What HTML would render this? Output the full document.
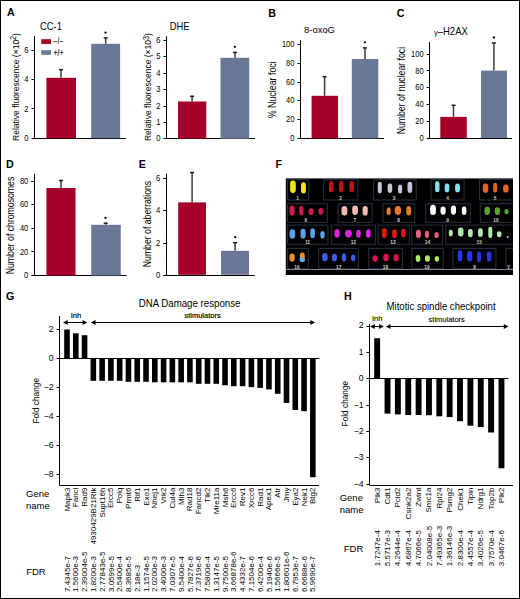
<!DOCTYPE html>
<html><head><meta charset="utf-8"><style>
html,body{margin:0;padding:0;background:#fff;}
body{width:520px;height:599px;overflow:hidden;}
svg{display:block;font-family:"Liberation Sans", sans-serif;}
</style></head><body>
<svg width="520" height="599" viewBox="0 0 520 599">
<defs><filter id="soft" x="-30%" y="-30%" width="160%" height="160%"><feGaussianBlur stdDeviation="0.35"/></filter><clipPath id="fclip"><rect x="285.8" y="178.4" width="227.2" height="96.6"/></clipPath></defs>
<rect x="0" y="0" width="520" height="599" fill="#fff"/>
<text x="0" y="0" font-size="11.5" text-anchor="start" fill="#000" font-weight="bold" transform="translate(6.9 15.9) scale(0.93 1)">A</text>
<text x="0" y="0" font-size="11.5" text-anchor="start" fill="#000" font-weight="bold" transform="translate(268.3 16.6) scale(0.93 1)">B</text>
<text x="0" y="0" font-size="11.5" text-anchor="start" fill="#000" font-weight="bold" transform="translate(396.8 16.6) scale(0.93 1)">C</text>
<text x="0" y="0" font-size="11.5" text-anchor="start" fill="#000" font-weight="bold" transform="translate(5.9 167.9) scale(0.93 1)">D</text>
<text x="0" y="0" font-size="11.5" text-anchor="start" fill="#000" font-weight="bold" transform="translate(138.8 167.8) scale(0.93 1)">E</text>
<text x="0" y="0" font-size="11.5" text-anchor="start" fill="#000" font-weight="bold" transform="translate(275.6 168) scale(0.93 1)">F</text>
<text x="0" y="0" font-size="11.5" text-anchor="start" fill="#000" font-weight="bold" transform="translate(6.0 300.4) scale(0.93 1)">G</text>
<text x="0" y="0" font-size="11.5" text-anchor="start" fill="#000" font-weight="bold" transform="translate(343.9 300.1) scale(0.93 1)">H</text>
<line x1="34.5" y1="36" x2="34.5" y2="138.5" stroke="#000" stroke-width="1.0"/>
<line x1="31.5" y1="50.5" x2="34.5" y2="50.5" stroke="#000" stroke-width="1.0"/>
<text x="0" y="0" font-size="8.7" text-anchor="end" fill="#000" transform="translate(28.5 52.8) scale(0.87 1)">6</text>
<line x1="31.5" y1="79.5" x2="34.5" y2="79.5" stroke="#000" stroke-width="1.0"/>
<text x="0" y="0" font-size="8.7" text-anchor="end" fill="#000" transform="translate(28.5 82.0) scale(0.87 1)">4</text>
<line x1="31.5" y1="108.5" x2="34.5" y2="108.5" stroke="#000" stroke-width="1.0"/>
<text x="0" y="0" font-size="8.7" text-anchor="end" fill="#000" transform="translate(28.5 111.5) scale(0.87 1)">2</text>
<line x1="31.5" y1="138.5" x2="34.5" y2="138.5" stroke="#000" stroke-width="1.0"/>
<text x="0" y="0" font-size="8.7" text-anchor="end" fill="#000" transform="translate(28.5 140.8) scale(0.87 1)">0</text>
<line x1="34.5" y1="138.5" x2="126" y2="138.5" stroke="#000" stroke-width="1.0"/>
<rect x="46.40" y="77.80" width="29.60" height="60.40" fill="#a6002a"/>
<line x1="61" y1="69.6" x2="61" y2="77.8" stroke="#3a3a3a" stroke-width="1.5"/>
<line x1="59.0" y1="69.69999999999999" x2="63.0" y2="69.69999999999999" stroke="#1a1a1a" stroke-width="1.5"/>
<rect x="91.20" y="43.80" width="28.90" height="94.40" fill="#6a7898"/>
<line x1="105.7" y1="37.8" x2="105.7" y2="43.8" stroke="#3a3a3a" stroke-width="1.5"/>
<line x1="103.7" y1="37.9" x2="107.7" y2="37.9" stroke="#1a1a1a" stroke-width="1.5"/>
<circle cx="105.5" cy="32.6" r="1.15" fill="#000"/>
<rect x="41.20" y="39.20" width="9.80" height="4.70" fill="#a6002a"/>
<rect x="41.20" y="50.20" width="9.80" height="4.60" fill="#6a7898"/>
<text x="0" y="0" font-size="8.2" text-anchor="start" fill="#4a4a4a" font-weight="bold" transform="translate(53.4 44.0) scale(0.85 1)">−/−</text>
<text x="0" y="0" font-size="8.2" text-anchor="start" fill="#333" font-weight="bold" transform="translate(53.4 55.8) scale(0.85 1)">+/+</text>
<text x="0" y="0" font-size="10.5" text-anchor="start" fill="#000" transform="translate(39.9 30.3) scale(0.9 1)">CC-1</text>
<text x="0" y="0" font-size="9.8" text-anchor="middle" fill="#000" transform="translate(18.5 87.0) rotate(-90) scale(0.87 1)">Relative fluorescence (×10<tspan dy="-2.4" font-size="8.2">2</tspan><tspan dy="2.4">)</tspan></text>
<line x1="166.5" y1="36.3" x2="166.5" y2="138.9" stroke="#000" stroke-width="1.0"/>
<line x1="163.5" y1="138.5" x2="166.5" y2="138.5" stroke="#000" stroke-width="1.0"/>
<text x="0" y="0" font-size="8.7" text-anchor="end" fill="#000" transform="translate(160.5 141.35) scale(0.87 1)">0</text>
<line x1="163.5" y1="122.5" x2="166.5" y2="122.5" stroke="#000" stroke-width="1.0"/>
<text x="0" y="0" font-size="8.7" text-anchor="end" fill="#000" transform="translate(160.5 124.97) scale(0.87 1)">1</text>
<line x1="163.5" y1="106.5" x2="166.5" y2="106.5" stroke="#000" stroke-width="1.0"/>
<text x="0" y="0" font-size="8.7" text-anchor="end" fill="#000" transform="translate(160.5 108.6) scale(0.87 1)">2</text>
<line x1="163.5" y1="89.5" x2="166.5" y2="89.5" stroke="#000" stroke-width="1.0"/>
<text x="0" y="0" font-size="8.7" text-anchor="end" fill="#000" transform="translate(160.5 92.22) scale(0.87 1)">3</text>
<line x1="163.5" y1="73.5" x2="166.5" y2="73.5" stroke="#000" stroke-width="1.0"/>
<text x="0" y="0" font-size="8.7" text-anchor="end" fill="#000" transform="translate(160.5 75.85) scale(0.87 1)">4</text>
<line x1="163.5" y1="56.5" x2="166.5" y2="56.5" stroke="#000" stroke-width="1.0"/>
<text x="0" y="0" font-size="8.7" text-anchor="end" fill="#000" transform="translate(160.5 59.48) scale(0.87 1)">5</text>
<line x1="163.5" y1="40.5" x2="166.5" y2="40.5" stroke="#000" stroke-width="1.0"/>
<text x="0" y="0" font-size="8.7" text-anchor="end" fill="#000" transform="translate(160.5 43.1) scale(0.87 1)">6</text>
<line x1="166.5" y1="138.5" x2="255" y2="138.5" stroke="#000" stroke-width="1.0"/>
<rect x="178.00" y="101.50" width="28.25" height="37.25" fill="#a6002a"/>
<line x1="192.1" y1="96.2" x2="192.1" y2="101.5" stroke="#3a3a3a" stroke-width="1.5"/>
<line x1="190.1" y1="96.3" x2="194.1" y2="96.3" stroke="#1a1a1a" stroke-width="1.5"/>
<rect x="220.50" y="57.80" width="28.75" height="80.95" fill="#6a7898"/>
<line x1="235" y1="52.3" x2="235" y2="57.8" stroke="#3a3a3a" stroke-width="1.5"/>
<line x1="233.0" y1="52.4" x2="237.0" y2="52.4" stroke="#1a1a1a" stroke-width="1.5"/>
<circle cx="234.8" cy="46.8" r="1.15" fill="#000"/>
<text x="0" y="0" font-size="10.4" text-anchor="start" fill="#000" transform="translate(169.8 30.0) scale(0.9 1)">DHE</text>
<text x="0" y="0" font-size="9.8" text-anchor="middle" fill="#000" transform="translate(151.0 87.1) rotate(-90) scale(0.87 1)">Relative fluorescence (×10<tspan dy="-2.4" font-size="8.2">3</tspan><tspan dy="2.4">)</tspan></text>
<line x1="300.5" y1="40.2" x2="300.5" y2="138.6" stroke="#000" stroke-width="1.0"/>
<line x1="297.5" y1="138.5" x2="300.5" y2="138.5" stroke="#000" stroke-width="1.0"/>
<text x="0" y="0" font-size="8.7" text-anchor="end" fill="#000" transform="translate(294.5 141.0) scale(0.87 1)">0</text>
<line x1="297.5" y1="119.5" x2="300.5" y2="119.5" stroke="#000" stroke-width="1.0"/>
<text x="0" y="0" font-size="8.7" text-anchor="end" fill="#000" transform="translate(294.5 122.24) scale(0.87 1)">20</text>
<line x1="297.5" y1="100.5" x2="300.5" y2="100.5" stroke="#000" stroke-width="1.0"/>
<text x="0" y="0" font-size="8.7" text-anchor="end" fill="#000" transform="translate(294.5 103.48) scale(0.87 1)">40</text>
<line x1="297.5" y1="82.5" x2="300.5" y2="82.5" stroke="#000" stroke-width="1.0"/>
<text x="0" y="0" font-size="8.7" text-anchor="end" fill="#000" transform="translate(294.5 84.72) scale(0.87 1)">60</text>
<line x1="297.5" y1="63.5" x2="300.5" y2="63.5" stroke="#000" stroke-width="1.0"/>
<text x="0" y="0" font-size="8.7" text-anchor="end" fill="#000" transform="translate(294.5 65.96) scale(0.87 1)">80</text>
<line x1="297.5" y1="44.5" x2="300.5" y2="44.5" stroke="#000" stroke-width="1.0"/>
<text x="0" y="0" font-size="8.7" text-anchor="end" fill="#000" transform="translate(294.5 47.2) scale(0.87 1)">100</text>
<line x1="300.5" y1="138.5" x2="384" y2="138.5" stroke="#000" stroke-width="1.0"/>
<rect x="311.60" y="95.80" width="26.40" height="42.60" fill="#a6002a"/>
<line x1="324.6" y1="76.6" x2="324.6" y2="95.8" stroke="#3a3a3a" stroke-width="1.5"/>
<line x1="322.6" y1="76.69999999999999" x2="326.6" y2="76.69999999999999" stroke="#1a1a1a" stroke-width="1.5"/>
<rect x="351.80" y="59.00" width="26.50" height="79.40" fill="#6a7898"/>
<line x1="365" y1="47.8" x2="365" y2="59" stroke="#3a3a3a" stroke-width="1.5"/>
<line x1="363.0" y1="47.9" x2="367.0" y2="47.9" stroke="#1a1a1a" stroke-width="1.5"/>
<circle cx="364.9" cy="42.3" r="1.15" fill="#000"/>
<text x="0" y="0" font-size="9.6" text-anchor="start" fill="#000" transform="translate(304.1 33.0) scale(0.98 1)">8-oxoG</text>
<text x="0" y="0" font-size="10.2" text-anchor="middle" fill="#000" transform="translate(276.0 89.8) rotate(-90) scale(0.87 1)">% Nuclear foci</text>
<line x1="429.5" y1="42" x2="429.5" y2="138.2" stroke="#000" stroke-width="1.0"/>
<line x1="426.7" y1="138.5" x2="429.7" y2="138.5" stroke="#000" stroke-width="1.0"/>
<text x="0" y="0" font-size="8.7" text-anchor="end" fill="#000" transform="translate(423.7 140.6) scale(0.87 1)">0</text>
<line x1="426.7" y1="121.5" x2="429.7" y2="121.5" stroke="#000" stroke-width="1.0"/>
<text x="0" y="0" font-size="8.7" text-anchor="end" fill="#000" transform="translate(423.7 123.84) scale(0.87 1)">20</text>
<line x1="426.7" y1="104.5" x2="429.7" y2="104.5" stroke="#000" stroke-width="1.0"/>
<text x="0" y="0" font-size="8.7" text-anchor="end" fill="#000" transform="translate(423.7 107.08) scale(0.87 1)">40</text>
<line x1="426.7" y1="87.5" x2="429.7" y2="87.5" stroke="#000" stroke-width="1.0"/>
<text x="0" y="0" font-size="8.7" text-anchor="end" fill="#000" transform="translate(423.7 90.32) scale(0.87 1)">60</text>
<line x1="426.7" y1="70.5" x2="429.7" y2="70.5" stroke="#000" stroke-width="1.0"/>
<text x="0" y="0" font-size="8.7" text-anchor="end" fill="#000" transform="translate(423.7 73.56) scale(0.87 1)">80</text>
<line x1="426.7" y1="54.5" x2="429.7" y2="54.5" stroke="#000" stroke-width="1.0"/>
<text x="0" y="0" font-size="8.7" text-anchor="end" fill="#000" transform="translate(423.7 56.8) scale(0.87 1)">100</text>
<line x1="429.7" y1="138.5" x2="512" y2="138.5" stroke="#000" stroke-width="1.0"/>
<rect x="440.30" y="116.90" width="26.50" height="21.10" fill="#a6002a"/>
<line x1="453.5" y1="105.2" x2="453.5" y2="116.9" stroke="#3a3a3a" stroke-width="1.5"/>
<line x1="451.5" y1="105.3" x2="455.5" y2="105.3" stroke="#1a1a1a" stroke-width="1.5"/>
<rect x="481.00" y="70.60" width="26.00" height="67.40" fill="#6a7898"/>
<line x1="493.9" y1="42.9" x2="493.9" y2="70.6" stroke="#3a3a3a" stroke-width="1.5"/>
<line x1="491.9" y1="43.0" x2="495.9" y2="43.0" stroke="#1a1a1a" stroke-width="1.5"/>
<circle cx="493.9" cy="37.5" r="1.15" fill="#000"/>
<text x="0" y="0" font-size="10" text-anchor="start" fill="#000" transform="translate(433.9 34.5) scale(0.95 1)"><tspan font-size="8">γ</tspan>–H2AX</text>
<text x="0" y="0" font-size="10" text-anchor="middle" fill="#000" transform="translate(404.9 90.6) rotate(-90) scale(0.87 1)">Number of nuclear foci</text>
<line x1="34.5" y1="173.7" x2="34.5" y2="275.7" stroke="#000" stroke-width="1.0"/>
<line x1="31.299999999999997" y1="275.5" x2="34.3" y2="275.5" stroke="#000" stroke-width="1.0"/>
<text x="0" y="0" font-size="8.7" text-anchor="end" fill="#000" transform="translate(28.3 278.2) scale(0.87 1)">0</text>
<line x1="31.299999999999997" y1="251.5" x2="34.3" y2="251.5" stroke="#000" stroke-width="1.0"/>
<text x="0" y="0" font-size="8.7" text-anchor="end" fill="#000" transform="translate(28.3 254.55) scale(0.87 1)">20</text>
<line x1="31.299999999999997" y1="228.5" x2="34.3" y2="228.5" stroke="#000" stroke-width="1.0"/>
<text x="0" y="0" font-size="8.7" text-anchor="end" fill="#000" transform="translate(28.3 230.9) scale(0.87 1)">40</text>
<line x1="31.299999999999997" y1="204.5" x2="34.3" y2="204.5" stroke="#000" stroke-width="1.0"/>
<text x="0" y="0" font-size="8.7" text-anchor="end" fill="#000" transform="translate(28.3 207.25) scale(0.87 1)">60</text>
<line x1="31.299999999999997" y1="181.5" x2="34.3" y2="181.5" stroke="#000" stroke-width="1.0"/>
<text x="0" y="0" font-size="8.7" text-anchor="end" fill="#000" transform="translate(28.3 183.6) scale(0.87 1)">80</text>
<line x1="34.3" y1="275.5" x2="126.5" y2="275.5" stroke="#000" stroke-width="1.0"/>
<rect x="46.40" y="188.00" width="29.10" height="87.50" fill="#a6002a"/>
<line x1="61" y1="180.4" x2="61" y2="188" stroke="#3a3a3a" stroke-width="1.5"/>
<line x1="59.0" y1="180.5" x2="63.0" y2="180.5" stroke="#1a1a1a" stroke-width="1.5"/>
<rect x="91.25" y="224.80" width="29.50" height="50.70" fill="#6a7898"/>
<line x1="105.7" y1="223.1" x2="105.7" y2="224.8" stroke="#3a3a3a" stroke-width="1.5"/>
<line x1="103.7" y1="223.2" x2="107.7" y2="223.2" stroke="#1a1a1a" stroke-width="1.5"/>
<circle cx="105.5" cy="217.9" r="1.15" fill="#000"/>
<text x="0" y="0" font-size="10" text-anchor="middle" fill="#000" transform="translate(13.9 225.5) rotate(-90) scale(0.87 1)">Number of chromosomes</text>
<line x1="166.5" y1="173.6" x2="166.5" y2="275" stroke="#000" stroke-width="1.0"/>
<line x1="163.2" y1="275.5" x2="166.2" y2="275.5" stroke="#000" stroke-width="1.0"/>
<text x="0" y="0" font-size="8.7" text-anchor="end" fill="#000" transform="translate(160.2 277.8) scale(0.87 1)">0</text>
<line x1="163.2" y1="243.5" x2="166.2" y2="243.5" stroke="#000" stroke-width="1.0"/>
<text x="0" y="0" font-size="8.7" text-anchor="end" fill="#000" transform="translate(160.2 245.6) scale(0.87 1)">2</text>
<line x1="163.2" y1="210.5" x2="166.2" y2="210.5" stroke="#000" stroke-width="1.0"/>
<text x="0" y="0" font-size="8.7" text-anchor="end" fill="#000" transform="translate(160.2 213.4) scale(0.87 1)">4</text>
<line x1="163.2" y1="178.5" x2="166.2" y2="178.5" stroke="#000" stroke-width="1.0"/>
<text x="0" y="0" font-size="8.7" text-anchor="end" fill="#000" transform="translate(160.2 181.2) scale(0.87 1)">6</text>
<line x1="166.2" y1="275.5" x2="254.8" y2="275.5" stroke="#000" stroke-width="1.0"/>
<rect x="178.20" y="202.40" width="27.80" height="72.40" fill="#a6002a"/>
<line x1="192.1" y1="172.5" x2="192.1" y2="202.4" stroke="#3a3a3a" stroke-width="1.5"/>
<line x1="190.1" y1="172.6" x2="194.1" y2="172.6" stroke="#1a1a1a" stroke-width="1.5"/>
<rect x="221.00" y="250.80" width="28.00" height="24.00" fill="#6a7898"/>
<line x1="235.1" y1="242.6" x2="235.1" y2="250.8" stroke="#3a3a3a" stroke-width="1.5"/>
<line x1="233.1" y1="242.7" x2="237.1" y2="242.7" stroke="#1a1a1a" stroke-width="1.5"/>
<circle cx="235.2" cy="237.2" r="1.15" fill="#000"/>
<text x="0" y="0" font-size="10" text-anchor="middle" fill="#000" transform="translate(151.2 224) rotate(-90) scale(0.87 1)">Number of aberrations</text>
<rect x="285.8" y="178.4" width="227.2" height="96.6" fill="#000"/>
<g clip-path="url(#fclip)">
<rect x="287.5" y="179.7" width="21.19999999999999" height="20.30000000000001" fill="none" stroke="#283042" stroke-width="1"/>
<rect x="290.1" y="180.5" width="5.7" height="12.4" rx="2.7" ry="3.4" fill="#f2e418" filter="url(#soft)"/>
<rect x="301.0" y="182.3" width="4.9" height="11.2" rx="2.4" ry="2.9" fill="#f2e418" filter="url(#soft)"/>
<text x="297.6" y="199.8" font-size="4.8" font-weight="bold" fill="#d0d0d0" text-anchor="middle">1</text>
<rect x="323.7" y="179.7" width="34.10000000000002" height="20.30000000000001" fill="none" stroke="#283042" stroke-width="1"/>
<rect x="328.9" y="180.9" width="4.6" height="11.4" rx="2.2" ry="2.8" fill="#b81212" filter="url(#soft)"/>
<rect x="339.0" y="180.9" width="4.6" height="11.4" rx="2.2" ry="2.8" fill="#b81212" filter="url(#soft)"/>
<rect x="349.4" y="180.9" width="4.6" height="11.4" rx="2.2" ry="2.8" fill="#b81212" filter="url(#soft)"/>
<text x="340.5" y="199.8" font-size="4.8" font-weight="bold" fill="#d0d0d0" text-anchor="middle">2</text>
<rect x="373.7" y="179.7" width="42.5" height="20.30000000000001" fill="none" stroke="#283042" stroke-width="1"/>
<rect x="377.8" y="181.7" width="4.0" height="11.8" rx="1.9" ry="2.4" fill="#cac2d8" filter="url(#soft)"/>
<rect x="387.6" y="183.4" width="4.6" height="9.5" rx="2.2" ry="2.8" fill="#cac2d8" filter="url(#soft)"/>
<rect x="398.0" y="184.5" width="4.2" height="9.0" rx="2.0" ry="2.5" fill="#cac2d8" filter="url(#soft)"/>
<rect x="407.5" y="181.7" width="4.7" height="11.2" rx="2.3" ry="2.8" fill="#cac2d8" filter="url(#soft)"/>
<text x="394.2" y="199.8" font-size="4.8" font-weight="bold" fill="#d0d0d0" text-anchor="middle">3</text>
<rect x="431.1" y="179.7" width="33.0" height="20.30000000000001" fill="none" stroke="#283042" stroke-width="1"/>
<rect x="435.1" y="181.1" width="4.4" height="11.2" rx="2.1" ry="2.6" fill="#84e2ee" filter="url(#soft)"/>
<rect x="444.7" y="183.4" width="4.6" height="8.9" rx="2.2" ry="2.8" fill="#84e2ee" filter="url(#soft)"/>
<rect x="455.1" y="183.4" width="4.8" height="8.9" rx="2.3" ry="2.9" fill="#84e2ee" filter="url(#soft)"/>
<text x="447.5" y="199.8" font-size="4.8" font-weight="bold" fill="#d0d0d0" text-anchor="middle">4</text>
<rect x="479.5" y="179.7" width="36" height="20.30000000000001" fill="none" stroke="#283042" stroke-width="1"/>
<rect x="482.8" y="183.4" width="5.5" height="9.5" rx="2.6" ry="3.3" fill="#e2661a" filter="url(#soft)"/>
<rect x="493.2" y="182.8" width="4.0" height="9.8" rx="1.9" ry="2.4" fill="#e2661a" filter="url(#soft)"/>
<rect x="503.0" y="184.5" width="5.7" height="8.1" rx="2.7" ry="3.4" fill="#e2661a" filter="url(#soft)"/>
<text x="495.2" y="199.8" font-size="4.8" font-weight="bold" fill="#d0d0d0" text-anchor="middle">5</text>
<rect x="287.5" y="203.7" width="39.80000000000001" height="18.600000000000023" fill="none" stroke="#283042" stroke-width="1"/>
<rect x="289.5" y="205.4" width="5.2" height="10.1" rx="2.5" ry="3.1" fill="#cc1a4c" filter="url(#soft)"/>
<rect x="299.3" y="205.7" width="4.2" height="9.8" rx="2.0" ry="2.5" fill="#cc1a4c" filter="url(#soft)"/>
<rect x="308.5" y="208.3" width="5.2" height="6.6" rx="2.5" ry="3.1" fill="#cc1a4c" filter="url(#soft)"/>
<rect x="318.3" y="208.0" width="5.2" height="6.7" rx="2.5" ry="3.1" fill="#cc1a4c" filter="url(#soft)"/>
<text x="305.9" y="222.1" font-size="4.8" font-weight="bold" fill="#d0d0d0" text-anchor="middle">6</text>
<rect x="338.2" y="203.7" width="34.0" height="18.600000000000023" fill="none" stroke="#283042" stroke-width="1"/>
<rect x="341.5" y="206.0" width="5.8" height="9.5" rx="2.8" ry="3.5" fill="#f2bcb4" filter="url(#soft)"/>
<rect x="352.2" y="205.4" width="5.7" height="9.5" rx="2.7" ry="3.4" fill="#f2bcb4" filter="url(#soft)"/>
<rect x="362.6" y="206.0" width="5.1" height="9.5" rx="2.4" ry="3.1" fill="#f2bcb4" filter="url(#soft)"/>
<text x="354.8" y="222.1" font-size="4.8" font-weight="bold" fill="#d0d0d0" text-anchor="middle">7</text>
<rect x="383.0" y="203.7" width="31.69999999999999" height="18.600000000000023" fill="none" stroke="#283042" stroke-width="1"/>
<rect x="386.6" y="207.2" width="4.1" height="7.7" rx="2.0" ry="2.5" fill="#ea7a28" filter="url(#soft)"/>
<rect x="394.7" y="206.0" width="6.3" height="8.9" rx="3.0" ry="3.8" fill="#ea7a28" filter="url(#soft)"/>
<rect x="406.3" y="206.0" width="4.8" height="9.5" rx="2.3" ry="2.9" fill="#ea7a28" filter="url(#soft)"/>
<text x="398.5" y="222.1" font-size="4.8" font-weight="bold" fill="#d0d0d0" text-anchor="middle">8</text>
<rect x="425.7" y="203.7" width="44.60000000000002" height="18.600000000000023" fill="none" stroke="#283042" stroke-width="1"/>
<rect x="430.1" y="204.8" width="5.8" height="10.1" rx="2.8" ry="3.5" fill="#ffffff" filter="url(#soft)"/>
<rect x="440.5" y="206.6" width="5.2" height="8.1" rx="2.5" ry="3.1" fill="#ffffff" filter="url(#soft)"/>
<rect x="450.9" y="205.4" width="5.1" height="9.3" rx="2.4" ry="3.1" fill="#ffffff" filter="url(#soft)"/>
<rect x="461.8" y="206.6" width="4.6" height="8.3" rx="2.2" ry="2.8" fill="#ffffff" filter="url(#soft)"/>
<text x="447.5" y="222.1" font-size="4.8" font-weight="bold" fill="#d0d0d0" text-anchor="middle">9</text>
<rect x="480.3" y="203.7" width="35.19999999999999" height="18.600000000000023" fill="none" stroke="#283042" stroke-width="1"/>
<rect x="484.5" y="206.8" width="5.4" height="8.1" rx="2.6" ry="3.2" fill="#5ca22c" filter="url(#soft)"/>
<rect x="494.7" y="207.2" width="5.4" height="7.7" rx="2.6" ry="3.2" fill="#5ca22c" filter="url(#soft)"/>
<rect x="504.4" y="208.9" width="4.3" height="5.4" rx="2.1" ry="2.6" fill="#5ca22c" filter="url(#soft)"/>
<text x="496" y="222.1" font-size="4.8" font-weight="bold" fill="#d0d0d0" text-anchor="middle">10</text>
<rect x="287.5" y="225.1" width="40.39999999999998" height="19.200000000000017" fill="none" stroke="#283042" stroke-width="1"/>
<rect x="289.5" y="229.2" width="5.7" height="9.4" rx="2.7" ry="3.4" fill="#5aa2ea" filter="url(#soft)"/>
<rect x="300.5" y="228.8" width="5.1" height="9.8" rx="2.4" ry="3.1" fill="#5aa2ea" filter="url(#soft)"/>
<rect x="310.3" y="228.3" width="4.6" height="9.8" rx="2.2" ry="2.8" fill="#5aa2ea" filter="url(#soft)"/>
<rect x="320.3" y="230.9" width="4.4" height="7.7" rx="2.1" ry="2.6" fill="#5aa2ea" filter="url(#soft)"/>
<text x="307.7" y="244.1" font-size="4.8" font-weight="bold" fill="#d0d0d0" text-anchor="middle">11</text>
<rect x="331.3" y="225.1" width="44.0" height="19.200000000000017" fill="none" stroke="#283042" stroke-width="1"/>
<rect x="334.5" y="229.2" width="5.2" height="8.3" rx="2.5" ry="3.1" fill="#e222e2" filter="url(#soft)"/>
<rect x="345.1" y="229.7" width="6.7" height="7.8" rx="3.2" ry="3.9" fill="#e222e2" filter="url(#soft)"/>
<rect x="356.2" y="229.7" width="4.5" height="8.1" rx="2.2" ry="2.7" fill="#e222e2" filter="url(#soft)"/>
<rect x="365.9" y="229.2" width="4.7" height="8.6" rx="2.3" ry="2.8" fill="#e222e2" filter="url(#soft)"/>
<text x="353.3" y="244.1" font-size="4.8" font-weight="bold" fill="#d0d0d0" text-anchor="middle">12</text>
<rect x="378.0" y="225.1" width="31.30000000000001" height="19.200000000000017" fill="none" stroke="#283042" stroke-width="1"/>
<rect x="381.8" y="228.3" width="5.0" height="9.8" rx="2.4" ry="3.0" fill="#e41616" filter="url(#soft)"/>
<rect x="392.2" y="229.2" width="4.6" height="8.9" rx="2.2" ry="2.8" fill="#e41616" filter="url(#soft)"/>
<rect x="401.2" y="228.8" width="4.5" height="8.7" rx="2.2" ry="2.7" fill="#e41616" filter="url(#soft)"/>
<text x="393" y="244.1" font-size="4.8" font-weight="bold" fill="#d0d0d0" text-anchor="middle">13</text>
<rect x="411.8" y="225.1" width="30.80000000000001" height="19.200000000000017" fill="none" stroke="#283042" stroke-width="1"/>
<rect x="415.9" y="229.7" width="5.0" height="8.4" rx="2.4" ry="3.0" fill="#ea5e80" filter="url(#soft)"/>
<rect x="424.9" y="230.7" width="4.0" height="7.4" rx="1.9" ry="2.4" fill="#ea5e80" filter="url(#soft)"/>
<rect x="434.4" y="232.0" width="4.3" height="6.1" rx="2.1" ry="2.6" fill="#ea5e80" filter="url(#soft)"/>
<text x="427.5" y="244.1" font-size="4.8" font-weight="bold" fill="#d0d0d0" text-anchor="middle">14</text>
<rect x="445.9" y="225.1" width="69.60000000000002" height="19.200000000000017" fill="none" stroke="#283042" stroke-width="1"/>
<rect x="448.8" y="229.7" width="4.0" height="6.8" rx="1.9" ry="2.4" fill="#b2e8b2" filter="url(#soft)"/>
<rect x="458.0" y="227.4" width="5.5" height="9.1" rx="2.6" ry="3.3" fill="#b2e8b2" filter="url(#soft)"/>
<rect x="468.0" y="229.0" width="4.7" height="8.3" rx="2.3" ry="2.8" fill="#b2e8b2" filter="url(#soft)"/>
<rect x="478.0" y="228.2" width="4.8" height="8.6" rx="2.3" ry="2.9" fill="#b2e8b2" filter="url(#soft)"/>
<rect x="488.3" y="226.7" width="4.0" height="11.4" rx="1.9" ry="2.4" fill="#b2e8b2" filter="url(#soft)"/>
<rect x="496.9" y="231.3" width="4.6" height="6.0" rx="2.2" ry="2.8" fill="#b2e8b2" filter="url(#soft)"/>
<text x="479.2" y="244.1" font-size="4.8" font-weight="bold" fill="#d0d0d0" text-anchor="middle">15</text>
<rect x="287.5" y="248.4" width="20.80000000000001" height="20.299999999999983" fill="none" stroke="#283042" stroke-width="1"/>
<rect x="289.5" y="253.6" width="5.2" height="8.1" rx="2.5" ry="3.1" fill="#f09028" filter="url(#soft)"/>
<rect x="299.9" y="252.4" width="4.8" height="9.3" rx="2.3" ry="2.9" fill="#f09028" filter="url(#soft)"/>
<text x="296.9" y="268.5" font-size="4.8" font-weight="bold" fill="#d0d0d0" text-anchor="middle">16</text>
<rect x="318.7" y="248.4" width="39.60000000000002" height="20.299999999999983" fill="none" stroke="#283042" stroke-width="1"/>
<rect x="322.2" y="253.0" width="5.4" height="8.3" rx="2.6" ry="3.2" fill="#3c5cea" filter="url(#soft)"/>
<rect x="332.0" y="253.8" width="4.9" height="7.5" rx="2.4" ry="2.9" fill="#3c5cea" filter="url(#soft)"/>
<rect x="341.8" y="253.3" width="4.3" height="8.4" rx="2.1" ry="2.6" fill="#3c5cea" filter="url(#soft)"/>
<rect x="351.1" y="254.5" width="4.2" height="6.8" rx="2.0" ry="2.5" fill="#3c5cea" filter="url(#soft)"/>
<text x="338.7" y="268.5" font-size="4.8" font-weight="bold" fill="#d0d0d0" text-anchor="middle">17</text>
<rect x="368.7" y="248.4" width="33.60000000000002" height="20.299999999999983" fill="none" stroke="#283042" stroke-width="1"/>
<rect x="372.5" y="255.3" width="5.1" height="6.4" rx="2.4" ry="3.1" fill="#da1252" filter="url(#soft)"/>
<rect x="383.2" y="253.8" width="5.5" height="7.5" rx="2.6" ry="3.3" fill="#da1252" filter="url(#soft)"/>
<rect x="393.6" y="254.2" width="5.1" height="7.1" rx="2.4" ry="3.1" fill="#da1252" filter="url(#soft)"/>
<text x="385.5" y="268.5" font-size="4.8" font-weight="bold" fill="#d0d0d0" text-anchor="middle">18</text>
<rect x="411.8" y="248.4" width="31.399999999999977" height="20.299999999999983" fill="none" stroke="#283042" stroke-width="1"/>
<rect x="415.7" y="255.0" width="4.6" height="6.9" rx="2.2" ry="2.8" fill="#aaf062" filter="url(#soft)"/>
<rect x="424.9" y="255.3" width="5.0" height="6.4" rx="2.4" ry="3.0" fill="#aaf062" filter="url(#soft)"/>
<rect x="434.7" y="256.1" width="4.4" height="5.6" rx="2.1" ry="2.6" fill="#aaf062" filter="url(#soft)"/>
<text x="426.9" y="268.5" font-size="4.8" font-weight="bold" fill="#d0d0d0" text-anchor="middle">19</text>
<rect x="452.9" y="248.4" width="43.0" height="20.299999999999983" fill="none" stroke="#283042" stroke-width="1"/>
<rect x="457.7" y="250.2" width="4.4" height="11.2" rx="2.1" ry="2.6" fill="#2636f2" filter="url(#soft)"/>
<rect x="467.1" y="250.9" width="5.2" height="10.5" rx="2.5" ry="3.1" fill="#2636f2" filter="url(#soft)"/>
<rect x="477.2" y="251.5" width="3.7" height="10.6" rx="1.8" ry="2.2" fill="#2636f2" filter="url(#soft)"/>
<rect x="486.9" y="251.5" width="4.5" height="9.9" rx="2.2" ry="2.7" fill="#2636f2" filter="url(#soft)"/>
<text x="474.5" y="268.5" font-size="4.8" font-weight="bold" fill="#d0d0d0" text-anchor="middle">X</text>
<rect x="506.0" y="248.4" width="9.5" height="20.299999999999983" fill="none" stroke="#283042" stroke-width="1"/>
<text x="508.5" y="268.5" font-size="4.8" font-weight="bold" fill="#d0d0d0" text-anchor="middle">Y</text>
<rect x="299.6" y="257.5" width="5.4" height="4.6" rx="2.6" fill="#5ab4f0"/>
<circle cx="507.7" cy="237" r="0.9" fill="#ddd"/>
<line x1="285.8" y1="269.5" x2="513" y2="269.5" stroke="#7c8494" stroke-width="1"/>
</g>
<line x1="59.5" y1="316" x2="59.5" y2="485.2" stroke="#000" stroke-width="1.0"/>
<line x1="56.5" y1="329.5" x2="59.5" y2="329.5" stroke="#000" stroke-width="1.0"/>
<text x="53.7" y="332.14" font-size="8.7" text-anchor="end" fill="#000">2</text>
<line x1="56.5" y1="358.5" x2="59.5" y2="358.5" stroke="#000" stroke-width="1.0"/>
<text x="53.7" y="361.1" font-size="8.7" text-anchor="end" fill="#000">0</text>
<line x1="56.5" y1="387.5" x2="59.5" y2="387.5" stroke="#000" stroke-width="1.0"/>
<text x="53.7" y="390.06" font-size="8.7" text-anchor="end" fill="#000">−2</text>
<line x1="56.5" y1="416.5" x2="59.5" y2="416.5" stroke="#000" stroke-width="1.0"/>
<text x="53.7" y="419.02" font-size="8.7" text-anchor="end" fill="#000">−4</text>
<line x1="56.5" y1="445.5" x2="59.5" y2="445.5" stroke="#000" stroke-width="1.0"/>
<text x="53.7" y="447.98" font-size="8.7" text-anchor="end" fill="#000">−6</text>
<line x1="56.5" y1="474.5" x2="59.5" y2="474.5" stroke="#000" stroke-width="1.0"/>
<text x="53.7" y="476.94" font-size="8.7" text-anchor="end" fill="#000">−8</text>
<line x1="59.5" y1="485.5" x2="319" y2="485.5" stroke="#000" stroke-width="1.0"/>
<line x1="59.5" y1="358.5" x2="319.5" y2="358.5" stroke="#000" stroke-width="1.0"/>
<rect x="64.20" y="329.50" width="5.60" height="29.20" fill="#000"/>
<text x="0" y="0" font-size="8" text-anchor="end" fill="#000" transform="translate(69.5 487.6) rotate(-90)">Mapk3</text>
<text x="0" y="0" font-size="8" text-anchor="start" fill="#000" transform="translate(69.6 592) rotate(-90)">7.4345e-7</text>
<rect x="72.98" y="333.30" width="5.60" height="25.40" fill="#000"/>
<text x="0" y="0" font-size="8" text-anchor="end" fill="#000" transform="translate(78.28 487.6) rotate(-90)">Fancl</text>
<text x="0" y="0" font-size="8" text-anchor="start" fill="#000" transform="translate(78.38 592) rotate(-90)">1.5600e-3</text>
<rect x="81.76" y="335.20" width="5.60" height="23.50" fill="#000"/>
<text x="0" y="0" font-size="8" text-anchor="end" fill="#000" transform="translate(87.06 487.6) rotate(-90)">Rad9</text>
<text x="0" y="0" font-size="8" text-anchor="start" fill="#000" transform="translate(87.16 592) rotate(-90)">2.39004e-5</text>
<rect x="90.54" y="358.70" width="5.60" height="22.10" fill="#000"/>
<text x="0" y="0" font-size="8" text-anchor="end" fill="#000" transform="translate(95.83999999999999 487.6) rotate(-90)">4930429B21Rik</text>
<text x="0" y="0" font-size="8" text-anchor="start" fill="#000" transform="translate(95.93999999999998 592) rotate(-90)">1.8200e-3</text>
<rect x="99.32" y="358.70" width="5.60" height="22.10" fill="#000"/>
<text x="0" y="0" font-size="8" text-anchor="end" fill="#000" transform="translate(104.61999999999999 487.6) rotate(-90)">Supt16h</text>
<text x="0" y="0" font-size="8" text-anchor="start" fill="#000" transform="translate(104.71999999999998 592) rotate(-90)">2.77843e-5</text>
<rect x="108.10" y="358.70" width="5.60" height="22.10" fill="#000"/>
<text x="0" y="0" font-size="8" text-anchor="end" fill="#000" transform="translate(113.39999999999999 487.6) rotate(-90)">Ercc5</text>
<text x="0" y="0" font-size="8" text-anchor="start" fill="#000" transform="translate(113.49999999999999 592) rotate(-90)">3.0599e-5</text>
<rect x="116.88" y="358.70" width="5.60" height="22.10" fill="#000"/>
<text x="0" y="0" font-size="8" text-anchor="end" fill="#000" transform="translate(122.17999999999999 487.6) rotate(-90)">Polq</text>
<text x="0" y="0" font-size="8" text-anchor="start" fill="#000" transform="translate(122.27999999999999 592) rotate(-90)">2.5400e-4</text>
<rect x="125.66" y="358.70" width="5.60" height="23.10" fill="#000"/>
<text x="0" y="0" font-size="8" text-anchor="end" fill="#000" transform="translate(130.96 487.6) rotate(-90)">Prmt6</text>
<text x="0" y="0" font-size="8" text-anchor="start" fill="#000" transform="translate(131.06 592) rotate(-90)">8.3685e-5</text>
<rect x="134.44" y="358.70" width="5.60" height="23.10" fill="#000"/>
<text x="0" y="0" font-size="8" text-anchor="end" fill="#000" transform="translate(139.74 487.6) rotate(-90)">Rif1</text>
<text x="0" y="0" font-size="8" text-anchor="start" fill="#000" transform="translate(139.84 592) rotate(-90)">2.18e-3</text>
<rect x="143.22" y="358.70" width="5.60" height="23.10" fill="#000"/>
<text x="0" y="0" font-size="8" text-anchor="end" fill="#000" transform="translate(148.52 487.6) rotate(-90)">Exo1</text>
<text x="0" y="0" font-size="8" text-anchor="start" fill="#000" transform="translate(148.62 592) rotate(-90)">1.1574e-5</text>
<rect x="152.00" y="358.70" width="5.60" height="23.60" fill="#000"/>
<text x="0" y="0" font-size="8" text-anchor="end" fill="#000" transform="translate(157.3 487.6) rotate(-90)">Nhej1</text>
<text x="0" y="0" font-size="8" text-anchor="start" fill="#000" transform="translate(157.4 592) rotate(-90)">2.0200e-3</text>
<rect x="160.78" y="358.70" width="5.60" height="23.60" fill="#000"/>
<text x="0" y="0" font-size="8" text-anchor="end" fill="#000" transform="translate(166.08 487.6) rotate(-90)">Vrk2</text>
<text x="0" y="0" font-size="8" text-anchor="start" fill="#000" transform="translate(166.18 592) rotate(-90)">3.4000e-3</text>
<rect x="169.56" y="358.70" width="5.60" height="23.60" fill="#000"/>
<text x="0" y="0" font-size="8" text-anchor="end" fill="#000" transform="translate(174.86 487.6) rotate(-90)">Cul4a</text>
<text x="0" y="0" font-size="8" text-anchor="start" fill="#000" transform="translate(174.96 592) rotate(-90)">7.0307e-5</text>
<rect x="178.34" y="358.70" width="5.60" height="23.60" fill="#000"/>
<text x="0" y="0" font-size="8" text-anchor="end" fill="#000" transform="translate(183.64 487.6) rotate(-90)">Mlh3</text>
<text x="0" y="0" font-size="8" text-anchor="start" fill="#000" transform="translate(183.73999999999998 592) rotate(-90)">9.5400e-4</text>
<rect x="187.12" y="358.70" width="5.60" height="23.60" fill="#000"/>
<text x="0" y="0" font-size="8" text-anchor="end" fill="#000" transform="translate(192.42000000000002 487.6) rotate(-90)">Rad18</text>
<text x="0" y="0" font-size="8" text-anchor="start" fill="#000" transform="translate(192.52 592) rotate(-90)">5.7827e-6</text>
<rect x="195.90" y="358.70" width="5.60" height="25.10" fill="#000"/>
<text x="0" y="0" font-size="8" text-anchor="end" fill="#000" transform="translate(201.2 487.6) rotate(-90)">Fancd2</text>
<text x="0" y="0" font-size="8" text-anchor="start" fill="#000" transform="translate(201.29999999999998 592) rotate(-90)">7.3719e-6</text>
<rect x="204.68" y="358.70" width="5.60" height="25.10" fill="#000"/>
<text x="0" y="0" font-size="8" text-anchor="end" fill="#000" transform="translate(209.98000000000002 487.6) rotate(-90)">Tlk2</text>
<text x="0" y="0" font-size="8" text-anchor="start" fill="#000" transform="translate(210.08 592) rotate(-90)">7.5800e-4</text>
<rect x="213.46" y="358.70" width="5.60" height="25.10" fill="#000"/>
<text x="0" y="0" font-size="8" text-anchor="end" fill="#000" transform="translate(218.76 487.6) rotate(-90)">Mre11a</text>
<text x="0" y="0" font-size="8" text-anchor="start" fill="#000" transform="translate(218.85999999999999 592) rotate(-90)">1.3147e-5</text>
<rect x="222.24" y="358.70" width="5.60" height="26.60" fill="#000"/>
<text x="0" y="0" font-size="8" text-anchor="end" fill="#000" transform="translate(227.54000000000002 487.6) rotate(-90)">Msh6</text>
<text x="0" y="0" font-size="8" text-anchor="start" fill="#000" transform="translate(227.64000000000001 592) rotate(-90)">9.7500e-5</text>
<rect x="231.02" y="358.70" width="5.60" height="27.50" fill="#000"/>
<text x="0" y="0" font-size="8" text-anchor="end" fill="#000" transform="translate(236.32 487.6) rotate(-90)">Ercc6</text>
<text x="0" y="0" font-size="8" text-anchor="start" fill="#000" transform="translate(236.42 592) rotate(-90)">3.66878e-6</text>
<rect x="239.80" y="358.70" width="5.60" height="27.50" fill="#000"/>
<text x="0" y="0" font-size="8" text-anchor="end" fill="#000" transform="translate(245.10000000000002 487.6) rotate(-90)">Rev1</text>
<text x="0" y="0" font-size="8" text-anchor="start" fill="#000" transform="translate(245.20000000000002 592) rotate(-90)">4.4332e-7</text>
<rect x="248.58" y="358.70" width="5.60" height="28.40" fill="#000"/>
<text x="0" y="0" font-size="8" text-anchor="end" fill="#000" transform="translate(253.88 487.6) rotate(-90)">Xrcc6</text>
<text x="0" y="0" font-size="8" text-anchor="start" fill="#000" transform="translate(253.98 592) rotate(-90)">7.1504e-6</text>
<rect x="257.36" y="358.70" width="5.60" height="29.20" fill="#000"/>
<text x="0" y="0" font-size="8" text-anchor="end" fill="#000" transform="translate(262.66 487.6) rotate(-90)">Rad1</text>
<text x="0" y="0" font-size="8" text-anchor="start" fill="#000" transform="translate(262.76000000000005 592) rotate(-90)">6.4200e-4</text>
<rect x="266.14" y="358.70" width="5.60" height="30.70" fill="#000"/>
<text x="0" y="0" font-size="8" text-anchor="end" fill="#000" transform="translate(271.44 487.6) rotate(-90)">Apex1</text>
<text x="0" y="0" font-size="8" text-anchor="start" fill="#000" transform="translate(271.54 592) rotate(-90)">5.1940e-6</text>
<rect x="274.92" y="358.70" width="5.60" height="35.10" fill="#000"/>
<text x="0" y="0" font-size="8" text-anchor="end" fill="#000" transform="translate(280.21999999999997 487.6) rotate(-90)">Atr</text>
<text x="0" y="0" font-size="8" text-anchor="start" fill="#000" transform="translate(280.32 592) rotate(-90)">1.5666e-5</text>
<rect x="283.70" y="358.70" width="5.60" height="44.20" fill="#000"/>
<text x="0" y="0" font-size="8" text-anchor="end" fill="#000" transform="translate(289.0 487.6) rotate(-90)">Jmy</text>
<text x="0" y="0" font-size="8" text-anchor="start" fill="#000" transform="translate(289.1 592) rotate(-90)">1.80601e-6</text>
<rect x="292.48" y="358.70" width="5.60" height="51.30" fill="#000"/>
<text x="0" y="0" font-size="8" text-anchor="end" fill="#000" transform="translate(297.78 487.6) rotate(-90)">Eya2</text>
<text x="0" y="0" font-size="8" text-anchor="start" fill="#000" transform="translate(297.88 592) rotate(-90)">6.7953e-7</text>
<rect x="301.26" y="358.70" width="5.60" height="52.50" fill="#000"/>
<text x="0" y="0" font-size="8" text-anchor="end" fill="#000" transform="translate(306.56 487.6) rotate(-90)">Nek1</text>
<text x="0" y="0" font-size="8" text-anchor="start" fill="#000" transform="translate(306.66 592) rotate(-90)">6.6688e-6</text>
<rect x="310.04" y="358.70" width="5.60" height="118.50" fill="#000"/>
<text x="0" y="0" font-size="8" text-anchor="end" fill="#000" transform="translate(315.34 487.6) rotate(-90)">Btg2</text>
<text x="0" y="0" font-size="8" text-anchor="start" fill="#000" transform="translate(315.44 592) rotate(-90)">5.9690e-7</text>
<line x1="66.8" y1="322.5" x2="83.5" y2="322.5" stroke="#000" stroke-width="1"/>
<path d="M63,322.5 L67.8,320.0 L67.6,322.5 L67.8,325.0 Z" fill="#000"/>
<path d="M87.3,322.5 L82.5,320.0 L82.7,322.5 L82.5,325.0 Z" fill="#000"/>
<line x1="94.6" y1="322.5" x2="311.3" y2="322.5" stroke="#000" stroke-width="1"/>
<path d="M90.8,322.5 L95.6,320.0 L95.39999999999999,322.5 L95.6,325.0 Z" fill="#000"/>
<path d="M315.1,322.5 L310.3,320.0 L310.5,322.5 L310.3,325.0 Z" fill="#000"/>
<text x="75.9" y="317.7" font-size="7.5" text-anchor="middle" fill="#000" stroke="#000" stroke-width="0.18">Inh</text>
<text x="202.6" y="318.2" font-size="7.5" text-anchor="middle" fill="#000" stroke="#000" stroke-width="0.18">stimulators</text>
<text x="0" y="0" font-size="10.2" text-anchor="start" fill="#000" transform="translate(138.7 306.6) scale(0.95 1)">DNA Damage response</text>
<text x="0" y="0" font-size="9.2" text-anchor="middle" fill="#000" transform="translate(38.9 400.8) rotate(-90) scale(0.9 1)">Fold change</text>
<text x="26" y="497.3" font-size="9.5" text-anchor="start" fill="#000">Gene</text>
<text x="26" y="508.6" font-size="9.5" text-anchor="start" fill="#000">name</text>
<text x="26.2" y="575" font-size="9.5" text-anchor="start" fill="#000">FDR</text>
<line x1="369.5" y1="323.8" x2="369.5" y2="485" stroke="#000" stroke-width="1.0"/>
<line x1="366.5" y1="326.5" x2="369.5" y2="326.5" stroke="#000" stroke-width="1.0"/>
<text x="363.7" y="328.46" font-size="8.7" text-anchor="end" fill="#000">2</text>
<line x1="366.5" y1="352.5" x2="369.5" y2="352.5" stroke="#000" stroke-width="1.0"/>
<text x="363.7" y="354.83" font-size="8.7" text-anchor="end" fill="#000">1</text>
<line x1="366.5" y1="378.5" x2="369.5" y2="378.5" stroke="#000" stroke-width="1.0"/>
<text x="363.7" y="381.2" font-size="8.7" text-anchor="end" fill="#000">0</text>
<line x1="366.5" y1="405.5" x2="369.5" y2="405.5" stroke="#000" stroke-width="1.0"/>
<text x="363.7" y="407.57" font-size="8.7" text-anchor="end" fill="#000">−1</text>
<line x1="366.5" y1="431.5" x2="369.5" y2="431.5" stroke="#000" stroke-width="1.0"/>
<text x="363.7" y="433.94" font-size="8.7" text-anchor="end" fill="#000">−2</text>
<line x1="366.5" y1="457.5" x2="369.5" y2="457.5" stroke="#000" stroke-width="1.0"/>
<text x="363.7" y="460.31" font-size="8.7" text-anchor="end" fill="#000">−3</text>
<line x1="366.5" y1="484.5" x2="369.5" y2="484.5" stroke="#000" stroke-width="1.0"/>
<text x="363.7" y="486.68" font-size="8.7" text-anchor="end" fill="#000">−4</text>
<line x1="369.5" y1="485.5" x2="513" y2="485.5" stroke="#000" stroke-width="1.0"/>
<line x1="369.5" y1="378.5" x2="508.5" y2="378.5" stroke="#000" stroke-width="1.0"/>
<rect x="374.20" y="338.20" width="5.90" height="40.60" fill="#000"/>
<text x="0" y="0" font-size="8" text-anchor="end" fill="#000" transform="translate(379.65 487.6) rotate(-90)">Plk3</text>
<text x="0" y="0" font-size="8" text-anchor="start" fill="#000" transform="translate(379.75 566.2) rotate(-90)">1.7247e-4</text>
<rect x="384.56" y="378.80" width="5.90" height="34.80" fill="#000"/>
<text x="0" y="0" font-size="8" text-anchor="end" fill="#000" transform="translate(390.01 487.6) rotate(-90)">Cdt1</text>
<text x="0" y="0" font-size="8" text-anchor="start" fill="#000" transform="translate(390.11 566.2) rotate(-90)">5.5717e-3</text>
<rect x="394.92" y="378.80" width="5.90" height="35.60" fill="#000"/>
<text x="0" y="0" font-size="8" text-anchor="end" fill="#000" transform="translate(400.36999999999995 487.6) rotate(-90)">Pcid2</text>
<text x="0" y="0" font-size="8" text-anchor="start" fill="#000" transform="translate(400.46999999999997 566.2) rotate(-90)">4.2644e-4</text>
<rect x="405.28" y="378.80" width="5.90" height="36.20" fill="#000"/>
<text x="0" y="0" font-size="8" text-anchor="end" fill="#000" transform="translate(410.72999999999996 487.6) rotate(-90)">Csnk2a2</text>
<text x="0" y="0" font-size="8" text-anchor="start" fill="#000" transform="translate(410.83 566.2) rotate(-90)">4.6867e-4</text>
<rect x="415.64" y="378.80" width="5.90" height="36.20" fill="#000"/>
<text x="0" y="0" font-size="8" text-anchor="end" fill="#000" transform="translate(421.09 487.6) rotate(-90)">Zwint</text>
<text x="0" y="0" font-size="8" text-anchor="start" fill="#000" transform="translate(421.19 566.2) rotate(-90)">4.7066e-5</text>
<rect x="426.00" y="378.80" width="5.90" height="36.40" fill="#000"/>
<text x="0" y="0" font-size="8" text-anchor="end" fill="#000" transform="translate(431.45 487.6) rotate(-90)">Smc1a</text>
<text x="0" y="0" font-size="8" text-anchor="start" fill="#000" transform="translate(431.55 566.2) rotate(-90)">2.04008e-5</text>
<rect x="436.36" y="378.80" width="5.90" height="37.50" fill="#000"/>
<text x="0" y="0" font-size="8" text-anchor="end" fill="#000" transform="translate(441.81 487.6) rotate(-90)">Rpl24</text>
<text x="0" y="0" font-size="8" text-anchor="start" fill="#000" transform="translate(441.91 566.2) rotate(-90)">7.49365e-3</text>
<rect x="446.72" y="378.80" width="5.90" height="38.30" fill="#000"/>
<text x="0" y="0" font-size="8" text-anchor="end" fill="#000" transform="translate(452.16999999999996 487.6) rotate(-90)">Psmg2</text>
<text x="0" y="0" font-size="8" text-anchor="start" fill="#000" transform="translate(452.27 566.2) rotate(-90)">1.36146e-3</text>
<rect x="457.08" y="378.80" width="5.90" height="42.40" fill="#000"/>
<text x="0" y="0" font-size="8" text-anchor="end" fill="#000" transform="translate(462.53 487.6) rotate(-90)">Chek1</text>
<text x="0" y="0" font-size="8" text-anchor="start" fill="#000" transform="translate(462.63 566.2) rotate(-90)">2.8300e-4</text>
<rect x="467.44" y="378.80" width="5.90" height="46.90" fill="#000"/>
<text x="0" y="0" font-size="8" text-anchor="end" fill="#000" transform="translate(472.89 487.6) rotate(-90)">Tipin</text>
<text x="0" y="0" font-size="8" text-anchor="start" fill="#000" transform="translate(472.99 566.2) rotate(-90)">4.4557e-4</text>
<rect x="477.80" y="378.80" width="5.90" height="48.30" fill="#000"/>
<text x="0" y="0" font-size="8" text-anchor="end" fill="#000" transform="translate(483.24999999999994 487.6) rotate(-90)">Ndrg1</text>
<text x="0" y="0" font-size="8" text-anchor="start" fill="#000" transform="translate(483.34999999999997 566.2) rotate(-90)">3.4026e-5</text>
<rect x="488.16" y="378.80" width="5.90" height="53.70" fill="#000"/>
<text x="0" y="0" font-size="8" text-anchor="end" fill="#000" transform="translate(493.60999999999996 487.6) rotate(-90)">Top2b</text>
<text x="0" y="0" font-size="8" text-anchor="start" fill="#000" transform="translate(493.71 566.2) rotate(-90)">3.7570e-4</text>
<rect x="498.52" y="378.80" width="5.90" height="89.50" fill="#000"/>
<text x="0" y="0" font-size="8" text-anchor="end" fill="#000" transform="translate(503.96999999999997 487.6) rotate(-90)">Plk2</text>
<text x="0" y="0" font-size="8" text-anchor="start" fill="#000" transform="translate(504.07 566.2) rotate(-90)">3.0467e-6</text>
<line x1="373.8" y1="326.5" x2="380.0" y2="326.5" stroke="#000" stroke-width="1"/>
<path d="M370,326.5 L374.8,324.0 L374.6,326.5 L374.8,329.0 Z" fill="#000"/>
<path d="M383.8,326.5 L379.0,324.0 L379.2,326.5 L379.0,329.0 Z" fill="#000"/>
<line x1="389.6" y1="326.5" x2="504.7" y2="326.5" stroke="#000" stroke-width="1"/>
<path d="M385.8,326.5 L390.6,324.0 L390.40000000000003,326.5 L390.6,329.0 Z" fill="#000"/>
<path d="M508.5,326.5 L503.7,324.0 L503.9,326.5 L503.7,329.0 Z" fill="#000"/>
<text x="377.1" y="321.3" font-size="7.5" text-anchor="middle" fill="#000" stroke="#000" stroke-width="0.1">Inh</text>
<text x="446.7" y="321.5" font-size="7.5" text-anchor="middle" fill="#000" stroke="#000" stroke-width="0.1">stimulators</text>
<text x="0" y="0" font-size="10.2" text-anchor="start" fill="#000" transform="translate(386.6 309.6) scale(0.94 1)">Mitotic spindle checkpoint</text>
<text x="0" y="0" font-size="9.2" text-anchor="middle" fill="#000" transform="translate(348.4 403.6) rotate(-90) scale(0.9 1)">Fold change</text>
<text x="339.7" y="500.9" font-size="9.5" text-anchor="start" fill="#000">Gene</text>
<text x="339.7" y="512.6" font-size="9.5" text-anchor="start" fill="#000">name</text>
<text x="343.8" y="551.7" font-size="9.5" text-anchor="start" fill="#000">FDR</text>
<rect x="0.5" y="0.5" width="519" height="598" fill="none" stroke="#000" stroke-width="1"/>
</svg>
</body></html>
